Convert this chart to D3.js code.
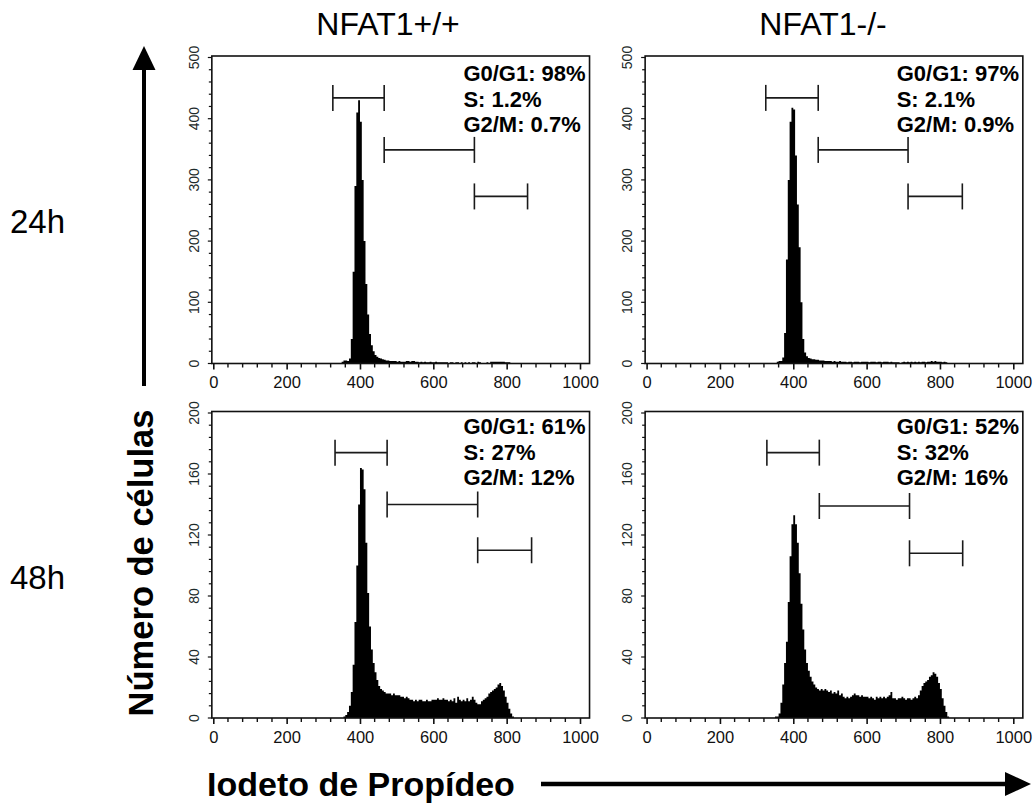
<!DOCTYPE html>
<html lang="en">
<head>
<meta charset="utf-8" />
<title>Ciclo celular NFAT1</title>
<style>
  * {margin: 0; padding: 0;}
  body {background: #fff;}
  svg {display: block; font-family: "Liberation Sans", Arial, Helvetica, sans-serif;}
</style>
</head>
<body>
<div id="viz"></div>
<script src="https://cdn.jsdelivr.net/npm/d3@7/dist/d3.min.js"></script>
<script>

// histogram bins: 5 channels each, first bin starts at channel 340
var binStart = 340, binWidth = 5;

var h24wt = [0,0,3,5,5,4,8,40,150,290,410,430,395,300,200,130,80,48,30,20,
  14,11,9,8,7,6,5,5,4,4,4,4,3,4,3,3,3,4,4,3,4,4,3,3,2,3,2,3,2,2,
  3,2,2,3,2,2,2,2,2,2,1,2,2,1,2,2,1,2,1,2,1,2,1,2,2,1,3,2,1,1,
  1,2,1,3,3,3,3,3,3,3,3,2,2,2,1,0];

var h24ko = [0,0,1,3,4,4,10,50,170,300,395,418,415,340,260,190,100,40,18,12,
  9,8,7,7,6,6,5,5,5,4,4,4,4,3,4,3,3,4,3,3,3,2,3,3,2,3,3,3,2,3,
  3,3,3,2,3,3,3,2,3,3,2,3,3,3,2,3,2,2,2,2,1,2,3,2,3,2,3,2,3,2,
  3,2,3,3,2,3,3,4,3,4,3,3,3,2,3,2,1,0];

var h48wt = [0,0,0,1,2,4,8,17,35,63,100,140,164,163,150,115,82,60,45,36,
  30,25,21,19,18,17,16,16,16,15,16,15,15,15,14,14,13,14,13,12,12,11,12,11,12,12,11,11,12,11,
  11,12,12,12,13,12,12,13,12,12,11,12,11,13,10,14,12,11,12,11,13,11,12,14,12,10,9,9,11,12,
  13,14,16,17,18,19,20,22,23,21,18,14,10,6,3,1,0];

var h48ko = [0,0,1,1,3,10,22,36,50,76,106,127,133,127,115,95,75,58,45,36,
  31,27,24,22,20,19,18,19,18,19,18,17,18,16,17,16,18,15,16,14,13,14,13,14,15,16,15,15,14,15,
  14,14,14,13,14,13,12,14,13,14,13,14,13,14,15,17,13,13,12,13,13,14,13,12,13,13,12,13,14,13,
  15,18,21,23,24,25,27,28,30,29,27,23,19,13,8,4,1,0];

// gates: [from channel, to channel, height in counts]
var gates24wt = [[326, 466, 434], [466, 712, 349], [712, 857, 273]];
var gates24ko = [[325, 468, 434], [468, 713, 349], [713, 861, 273]];
var gates48wt = [[332, 474, 174], [474, 721, 140], [721, 868, 110]];
var gates48ko = [[328, 471, 174], [471, 717, 139], [717, 862, 108]];

var stats24wt = ["G0/G1: 98%", "S: 1.2%", "G2/M: 0.7%"];
var stats24ko = ["G0/G1: 97%", "S: 2.1%", "G2/M: 0.9%"];
var stats48wt = ["G0/G1: 61%", "S: 27%", "G2/M: 12%"];
var stats48ko = ["G0/G1: 52%", "S: 32%", "G2/M: 16%"];

var columnTitles = ["NFAT1+/+", "NFAT1-/-"];
var rowTitles = ["24h", "48h"];
var xTicks = [0, 200, 400, 600, 800, 1000];
var yTicks24 = [0, 100, 200, 300, 400, 500];
var yTicks48 = [0, 40, 80, 120, 160, 200];

var w = 1034, h = 809;
var svg = d3.select("#viz").append("svg").attr("width", w).attr("height", h);

// layout of the four panels
var cols = [{x0: 213.3, x1: 580}, {x0: 646.6, x1: 1013.3}];
var rows = [{y0: 363.5, y1: 57.5, ticks: yTicks24, statY: 81},
            {y0: 718, y1: 413, ticks: yTicks48, statY: 434}];

var panels = [
  {r: 0, c: 0, data: h24wt, gates: gates24wt, stats: stats24wt},
  {r: 0, c: 1, data: h24ko, gates: gates24ko, stats: stats24ko},
  {r: 1, c: 0, data: h48wt, gates: gates48wt, stats: stats48wt},
  {r: 1, c: 1, data: h48ko, gates: gates48ko, stats: stats48ko}
];

panels.forEach(function(p) {
  var col = cols[p.c], row = rows[p.r];
  var yMax = row.ticks[row.ticks.length - 1];
  var x = d3.scaleLinear().domain([0, 1000]).range([col.x0, col.x1]);
  var y = d3.scaleLinear().domain([0, yMax]).range([row.y0, row.y1]);
  var g = svg.append("g");

  // histogram as a stepped area
  var pts = p.data.map(function(v, i) { return [binStart + i * binWidth, v]; });
  pts.unshift([0, 0]);
  pts.push([binStart + p.data.length * binWidth, 0]);
  var area = d3.area()
      .curve(d3.curveStepAfter)
      .x(function(d) { return x(d[0]); })
      .y0(y(0))
      .y1(function(d) { return y(d[1]); });
  g.append("path").datum(pts).attr("d", area).attr("fill", "#000");

  // frame (channels -4 .. 1024)
  g.append("rect")
      .attr("x", x(-4)).attr("y", y(yMax) - 1.5)
      .attr("width", x(1026) - x(-4)).attr("height", y(0) - y(yMax) + 1.5)
      .attr("fill", "none").attr("stroke", "#111").attr("stroke-width", 1.6);

  // x axis: major ticks + minor ticks every 40
  var xAxis = d3.axisBottom(x).tickValues(xTicks).tickSize(6).tickSizeOuter(0).tickFormat(d3.format("d"));
  var xa = g.append("g").attr("transform", "translate(0," + y(0) + ")").call(xAxis);
  xa.select(".domain").remove();
  xa.selectAll("line").attr("stroke", "#111").attr("stroke-width", 1.6);
  xa.selectAll("text").attr("font-size", 16.5).attr("fill", "#111")
      .attr("font-family", "'Liberation Sans', Arial, sans-serif").attr("dy", "0.95em");
  var xMinor = d3.range(40, 1000, 40).filter(function(v) { return v % 200 !== 0; });
  g.selectAll(".xminor").data(xMinor).enter().append("line")
      .attr("x1", function(d) { return x(d); }).attr("x2", function(d) { return x(d); })
      .attr("y1", y(0)).attr("y2", y(0) + 4)
      .attr("stroke", "#111").attr("stroke-width", 1.4);

  // y axis: on the frame, labels rotated
  var yStep = row.ticks[1] / 5;
  var yAll = d3.range(0, yMax + 0.001, yStep);
  g.selectAll(".ytick").data(yAll).enter().append("line")
      .attr("x1", x(-4)).attr("x2", function(d, i) { return x(-4) - (i % 5 === 0 ? 4 : 3); })
      .attr("y1", function(d) { return y(d); }).attr("y2", function(d) { return y(d); })
      .attr("stroke", "#111").attr("stroke-width", 1.2);
  g.selectAll(".ylab").data(row.ticks).enter().append("text")
      .attr("transform", function(d) { return "translate(" + (x(-4) - 13) + "," + y(d) + ") rotate(-90)"; })
      .attr("text-anchor", "middle")
      .attr("font-size", 14)
      .attr("fill", "#1d2b2b")
      .text(function(d) { return d; });

  // gate brackets
  var gg = g.selectAll(".gate").data(p.gates).enter().append("g")
      .attr("stroke", "#1a1a1a").attr("stroke-width", 1.6);
  gg.append("line")
      .attr("x1", function(d) { return x(d[0]); }).attr("x2", function(d) { return x(d[1]); })
      .attr("y1", function(d) { return y(d[2]); }).attr("y2", function(d) { return y(d[2]); });
  gg.append("line")
      .attr("x1", function(d) { return x(d[0]); }).attr("x2", function(d) { return x(d[0]); })
      .attr("y1", function(d) { return y(d[2]) - 13; }).attr("y2", function(d) { return y(d[2]) + 13; });
  gg.append("line")
      .attr("x1", function(d) { return x(d[1]); }).attr("x2", function(d) { return x(d[1]); })
      .attr("y1", function(d) { return y(d[2]) - 13; }).attr("y2", function(d) { return y(d[2]) + 13; });

  // cell cycle percentages
  g.selectAll(".stat").data(p.stats).enter().append("text")
      .attr("x", x(682))
      .attr("y", function(d, i) { return row.statY + i * 25.5; })
      .attr("font-size", 22).attr("font-weight", "bold").attr("fill", "#000")
      .text(function(d) { return d; });
});

// column titles
svg.selectAll(".ctitle").data(columnTitles).enter().append("text")
    .attr("x", function(d, i) { return i === 0 ? 388 : 823; })
    .attr("y", 35)
    .attr("text-anchor", "middle")
    .attr("font-size", 32)
    .text(function(d) { return d; });

// row titles
svg.selectAll(".rtitle").data(rowTitles).enter().append("text")
    .attr("x", 10)
    .attr("y", function(d, i) { return i === 0 ? 233 : 589; })
    .attr("font-size", 33)
    .text(function(d) { return d; });

// vertical arrow + title
svg.append("line").attr("x1", 144).attr("x2", 144).attr("y1", 386).attr("y2", 66)
    .attr("stroke", "#000").attr("stroke-width", 4);
svg.append("path").attr("d", "M144,46 L132.5,70 L155.5,70 Z").attr("fill", "#000");
svg.append("text")
    .attr("transform", "translate(153,563) rotate(-90)")
    .attr("text-anchor", "middle")
    .attr("font-size", 34.5).attr("font-weight", "bold")
    .text("Número de células");

// horizontal arrow + title
svg.append("text")
    .attr("x", 207).attr("y", 796)
    .attr("font-size", 34).attr("font-weight", "bold")
    .text("Iodeto de Propídeo");
svg.append("line").attr("x1", 541).attr("x2", 1010).attr("y1", 784).attr("y2", 784)
    .attr("stroke", "#000").attr("stroke-width", 4.5);
svg.append("path").attr("d", "M1031,784 L1005,772 L1005,796 Z").attr("fill", "#000");

</script>
</body>
</html>
